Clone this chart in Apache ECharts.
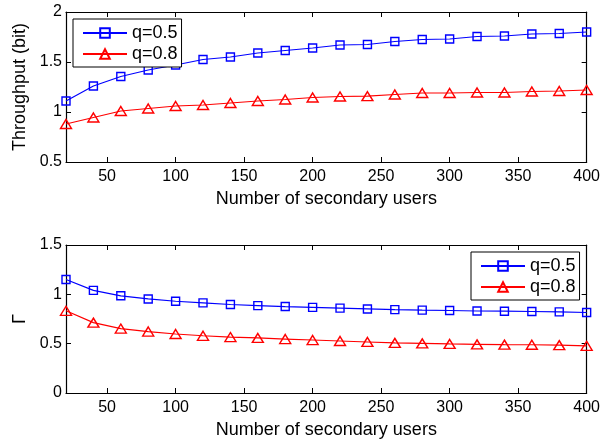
<!DOCTYPE html>
<html>
<head>
<meta charset="utf-8">
<script src="https://cdn.jsdelivr.net/npm/echarts@6/dist/echarts.min.js"></script>
<style>
html,body{margin:0;padding:0;background:#fff;}
#chart{width:603px;height:440px;}
</style>
</head>
<body>
<div id="chart"></div>
<script>
// ---- data ----
var users = [20,40,60,80,100,120,140,160,180,200,220,240,260,280,300,320,340,360,380,400];
var throughputQ05 = [1.11,1.26,1.355,1.42,1.47,1.525,1.55,1.59,1.615,1.64,1.67,1.675,1.705,1.725,1.73,1.755,1.76,1.78,1.785,1.80];
var throughputQ08 = [0.88,0.945,1.01,1.035,1.06,1.07,1.09,1.11,1.125,1.145,1.155,1.158,1.175,1.19,1.19,1.195,1.195,1.205,1.21,1.22];
var gammaQ05 = [1.15,1.04,0.985,0.953,0.93,0.913,0.897,0.886,0.876,0.868,0.86,0.852,0.845,0.84,0.836,0.831,0.829,0.826,0.822,0.816];
var gammaQ08 = [0.833,0.713,0.653,0.623,0.598,0.58,0.567,0.558,0.547,0.537,0.527,0.517,0.508,0.503,0.497,0.493,0.49,0.489,0.485,0.478];
var xTicks = [50,100,150,200,250,300,350,400];
var seriesNames = ['q=0.5','q=0.8'];
var xTitle = 'Number of secondary users';
var yTitleTop = 'Throughput (bit)';
var yTitleBottom = '\u0393';

function pairs(xs, ys){ return xs.map(function(x,i){return [x, ys[i]];}); }

var FONT = 'Liberation Sans, Arial, sans-serif';
var BLUE = '#0000ff', RED = '#ff0000';

function mainX(gi){
  return {
    type:'value', gridIndex:gi, min:20, max:400, position:'bottom',
    name:xTitle, nameLocation:'middle', nameGap:28,
    nameTextStyle:{fontFamily:FONT, fontSize:18, color:'#000'},
    axisLine:{show:true, onZero:false, lineStyle:{color:'#000', width:1.2}},
    axisTick:{show:true, inside:true, length:5, customValues:xTicks, lineStyle:{color:'#000'}},
    axisLabel:{show:true, customValues:xTicks, margin:7, fontFamily:FONT, fontSize:16, color:'#000'},
    splitLine:{show:false}
  };
}
function topX(gi){
  return {
    type:'value', gridIndex:gi, min:20, max:400, position:'top',
    axisLine:{show:true, onZero:false, lineStyle:{color:'#000', width:1.2}},
    axisTick:{show:true, inside:true, length:5, customValues:xTicks, lineStyle:{color:'#000'}},
    axisLabel:{show:false}, splitLine:{show:false}
  };
}
function mainY(gi, min, max, name){
  return {
    type:'value', gridIndex:gi, min:min, max:max, interval:0.5, position:'left',
    name:name, nameLocation:'middle', nameGap:37, nameRotate:90,
    nameTextStyle:{fontFamily:FONT, fontSize:18, color:'#000'},
    axisLine:{show:true, onZero:false, lineStyle:{color:'#000', width:1.2}},
    axisTick:{show:true, inside:true, length:5, lineStyle:{color:'#000'}},
    axisLabel:{show:true, margin:4, fontFamily:FONT, fontSize:16, color:'#000'},
    splitLine:{show:false}
  };
}
function rightY(gi, min, max){
  return {
    type:'value', gridIndex:gi, min:min, max:max, interval:0.5, position:'right',
    axisLine:{show:true, onZero:false, lineStyle:{color:'#000', width:1.2}},
    axisTick:{show:true, inside:true, length:5, lineStyle:{color:'#000'}},
    axisLabel:{show:false}, splitLine:{show:false}
  };
}
function lineSeries(name, color, symbol, size, xi, yi, data){
  return {
    type:'line', name:name, xAxisIndex:xi, yAxisIndex:yi, data:data,
    symbol:symbol, symbolSize:size, showSymbol:true, animation:false,
    lineStyle:{color:color, width:1.2},
    itemStyle:{color:'rgba(255,255,255,0)', borderColor:color, borderWidth:1.4},
    emphasis:{disabled:true}
  };
}
function legendBox(left, top){
  return {
    left:left, top:top, orient:'vertical', data:seriesNames,
    backgroundColor:'#fff', borderColor:'#000', borderWidth:1, borderRadius:0,
    padding:[5,4,4,9], itemGap:3, itemWidth:44, itemHeight:12,
    textStyle:{fontFamily:FONT, fontSize:18, color:'#000'},
    selectedMode:false
  };
}

var chart = echarts.init(document.getElementById('chart'), null, {renderer:'canvas'});
chart.setOption({
  backgroundColor:'#fff',
  animation:false,
  grid:[
    {left:66, right:16, top:12, height:150, show:false},
    {left:66, right:16, top:245, height:149, show:false}
  ],
  xAxis:[mainX(0), topX(0), mainX(1), topX(1)],
  yAxis:[mainY(0,0.5,2,yTitleTop), rightY(0,0.5,2), mainY(1,0,1.5,yTitleBottom), rightY(1,0,1.5)],
  legend:[legendBox(73,19), legendBox(471,252)],
  series:[
    lineSeries(seriesNames[0], BLUE, 'rect', 8, 0, 0, pairs(users, throughputQ05)),
    lineSeries(seriesNames[1], RED, 'triangle', [11,9], 0, 0, pairs(users, throughputQ08)),
    lineSeries(seriesNames[0], BLUE, 'rect', 8, 2, 2, pairs(users, gammaQ05)),
    lineSeries(seriesNames[1], RED, 'triangle', [11,9], 2, 2, pairs(users, gammaQ08))
  ]
});
</script>
</body>
</html>
